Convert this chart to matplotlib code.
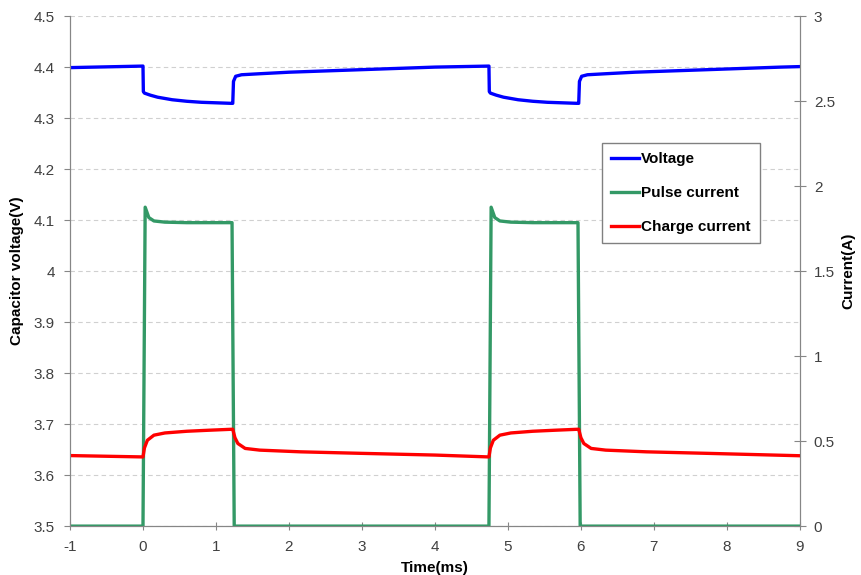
import matplotlib.pyplot as plt

plt.rcParams['font.family'] = ['Liberation Sans', 'DejaVu Sans']

# Voltage (left axis)
t_volt = [-1.0, 0.0, 0.005, 0.02, 0.1, 0.2, 0.4, 0.6, 0.8, 1.0, 1.2, 1.23, 1.24, 1.27, 1.35, 1.6, 2.0, 3.0, 4.0,
          4.74, 4.745, 4.76, 4.84, 4.94, 5.14, 5.34, 5.54, 5.74, 5.94, 5.97, 5.98, 6.01, 6.09, 6.34, 6.74, 7.74, 8.74, 9.0]
voltage = [4.399, 4.402, 4.352, 4.349, 4.345, 4.341, 4.336, 4.333, 4.331, 4.330, 4.329, 4.329, 4.372, 4.382, 4.385,
           4.387, 4.390, 4.395, 4.400, 4.402, 4.352, 4.349, 4.345, 4.341, 4.336, 4.333, 4.331, 4.330, 4.329, 4.329,
           4.372, 4.382, 4.385, 4.387, 4.390, 4.395, 4.400, 4.401]

# Pulse current (right axis)
t_pulse = [-1.0, 0.0, 0.03, 0.08, 0.15, 0.3, 0.6, 1.22, 1.25, 1.3, 4.74, 4.77, 4.82, 4.89, 5.04, 5.34, 5.96, 5.99, 6.04, 9.0]
pulse = [0.0, 0.0, 1.876, 1.815, 1.795, 1.788, 1.785, 1.785, 0.0, 0.0, 0.0, 1.876, 1.815, 1.795, 1.788, 1.785, 1.785,
         0.0, 0.0, 0.0]

# Charge current (right axis)
t_charge = [-1.0, 0.0, 0.02, 0.06, 0.15, 0.3, 0.6, 0.9, 1.23, 1.26, 1.3, 1.4, 1.6, 2.16, 3.0, 4.0, 4.74,
            4.76, 4.8, 4.89, 5.04, 5.34, 5.64, 5.97, 6.0, 6.04, 6.14, 6.34, 6.9, 7.74, 9.0]
charge = [0.415, 0.407, 0.46, 0.505, 0.535, 0.548, 0.558, 0.564, 0.570, 0.52, 0.486, 0.457, 0.447, 0.437, 0.428,
          0.418, 0.407, 0.46, 0.505, 0.535, 0.548, 0.558, 0.564, 0.570, 0.52, 0.486, 0.457, 0.447, 0.437, 0.428, 0.414]

x_ticks = list(range(-1, 10))
volt_ticks = [3.5, 3.6, 3.7, 3.8, 3.9, 4.0, 4.1, 4.2, 4.3, 4.4, 4.5]
volt_labels = ['3.5', '3.6', '3.7', '3.8', '3.9', '4', '4.1', '4.2', '4.3', '4.4', '4.5']
cur_ticks = [0, 0.5, 1, 1.5, 2, 2.5, 3]
cur_labels = ['0', '0.5', '1', '1.5', '2', '2.5', '3']

fig = plt.figure(figsize=(8.61, 5.75), dpi=100)
ax = fig.add_subplot(111)
fig.subplots_adjust(left=0.0813, right=0.929, top=0.972, bottom=0.085)
ax2 = ax.twinx()

spine_col = '#868686'
text_col = '#404040'
fs = 11

l1, = ax.plot(t_volt, voltage, color='#0000FF', lw=2.4, label='Voltage', solid_joinstyle='round')
l2, = ax2.plot(t_pulse, pulse, color='#339966', lw=2.4, label='Pulse current', solid_joinstyle='round')
l3, = ax2.plot(t_charge, charge, color='#FF0000', lw=2.4, label='Charge current', solid_joinstyle='round')

ax.set_xlim(-1, 9)
ax.set_ylim(3.5, 4.5)
ax2.set_ylim(0, 3)

ax.set_xticks(x_ticks)
ax.set_xticklabels([str(v) for v in x_ticks])
ax.set_yticks(volt_ticks)
ax.set_yticklabels(volt_labels)
ax2.set_yticks(cur_ticks)
ax2.set_yticklabels(cur_labels)

ax.yaxis.grid(True, color='#d0d0d0', ls=(0, (4, 3)), lw=0.8)
ax.set_axisbelow(True)

for a in (ax, ax2):
    a.spines['top'].set_visible(False)
    for s in ('left', 'right', 'bottom'):
        a.spines[s].set_color(spine_col)
ax.tick_params(axis='y', direction='out', length=4, color=spine_col, labelcolor=text_col, labelsize=fs, pad=7)
ax.tick_params(axis='x', direction='inout', length=6, color=spine_col, labelcolor=text_col, labelsize=fs, pad=7)
ax2.tick_params(axis='y', direction='inout', length=8, color=spine_col, labelcolor=text_col, labelsize=fs, pad=6)

ax.set_xlabel('Time(ms)', fontweight='bold', fontsize=fs, labelpad=5)
ax.set_ylabel('Capacitor voltage(V)', fontweight='bold', fontsize=fs, labelpad=7)
ax2.set_ylabel('Current(A)', fontweight='bold', fontsize=fs, labelpad=5)

leg = fig.legend(handles=[l1, l2, l3], loc='upper left', bbox_to_anchor=(602 / 861, 1 - 143 / 575),
                 fancybox=False, edgecolor='#808080', framealpha=1, prop={'weight': 'bold', 'size': fs},
                 handlelength=1.8, handletextpad=0.15, labelspacing=1.3, borderpad=0.6, borderaxespad=0)
leg.get_frame().set_linewidth(1.0)

plt.savefig('out.png', dpi=100)
plt.close(fig)
